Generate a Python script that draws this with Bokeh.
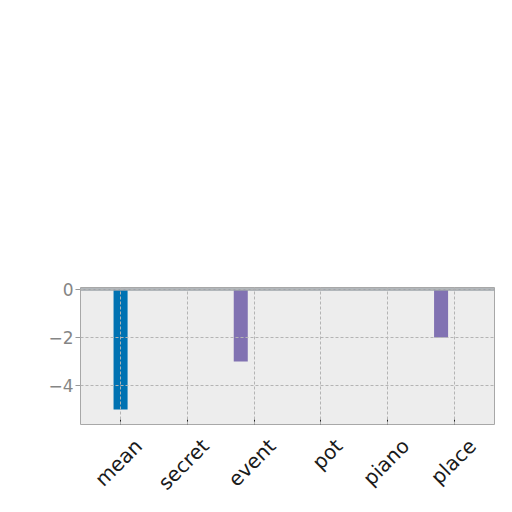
import math
from bokeh.plotting import figure
from bokeh.models import (Range1d, ColumnDataSource, Span, LinearAxis, FixedTicker)
from bokeh.transform import dodge
from bokeh.embed import file_html
from bokeh.resources import INLINE

categories = ["mean", "secret", "event", "pot", "piano", "place"]
blue_values = [-5, 0, 0, 0, 0, 0]
purple_values = [0, 0, -3, 0, 0, -2]
y_ticks = [0, -2, -4]

n = len(categories)
positions = list(range(n))
src = ColumnDataSource(dict(pos=positions, cat=categories, blue=blue_values, purple=purple_values))

PAD = 0.6
p = figure(width=500, height=506, output_backend="svg", toolbar_location=None,
           x_range=Range1d(-PAD, n - 1 + PAD),
           y_range=Range1d(-5.62, 0.08),
           min_border_left=80, min_border_right=6, min_border_top=287, min_border_bottom=80)

p.background_fill_color = "#ededed"
p.border_fill_color = "white"
p.outline_line_color = "#a8a8a8"
p.outline_line_width = 1

p.vbar(x="pos", top="blue", bottom=0, width=0.21,
       source=src, fill_color="#0072b2", line_color=None)
p.vbar(x=dodge("pos", -0.2), top="purple", bottom=0, width=0.21,
       source=src, fill_color="#8172b2", line_color=None)

p.add_layout(Span(location=0, dimension="width", line_color="#9ea4aa", line_width=2.5))

for g in (p.xgrid, p.ygrid):
    g.grid_line_color = "#b4b4b4"
    g.grid_line_dash = "3 2"
    g.grid_line_width = 1
    g.level = "overlay"

p.yaxis.ticker = y_ticks
p.yaxis.major_label_overrides = {0: "0", -2: "\u22122", -4: "\u22124"}
p.yaxis.axis_line_color = None
p.yaxis.major_tick_line_color = "#999999"
p.yaxis.major_tick_out = 5
p.yaxis.major_tick_in = 0
p.yaxis.minor_tick_line_color = None
p.yaxis.major_label_text_font = "DejaVu Sans"
p.yaxis.major_label_text_font_size = "17px"
p.yaxis.major_label_text_color = "#858585"
p.yaxis.major_label_standoff = 2

# main x axis: ticks only at category positions (labels not drawn)
p.xaxis.ticker = FixedTicker(ticks=positions)
p.xaxis.axis_line_color = None
p.xaxis.major_tick_line_color = "#222222"
p.xaxis.major_tick_in = 5
p.xaxis.major_tick_out = 0
p.xaxis.minor_tick_line_color = None
p.xaxis.major_label_text_color = None
p.xaxis.major_label_text_font_size = "1px"
p.xaxis.major_label_standoff = 0

# label axis: same positions, shifted so rotated labels sit centred under ticks
shift_px = 18
frame_w = 500 - 80 - 6
s = shift_px * (n - 1 + 2 * PAD) / frame_w
p.extra_x_ranges = {"labels": Range1d(-PAD - s, n - 1 + PAD - s)}
lab_axis = LinearAxis(x_range_name="labels",
                      ticker=FixedTicker(ticks=positions),
                      major_label_overrides={i: c for i, c in zip(positions, categories)})
lab_axis.axis_line_color = None
lab_axis.major_tick_line_color = None
lab_axis.minor_tick_line_color = None
lab_axis.major_label_orientation = math.pi / 4
lab_axis.major_label_text_font = "DejaVu Sans"
lab_axis.major_label_text_font_size = "20px"
lab_axis.major_label_text_color = "#1a1a1a"
lab_axis.major_label_standoff = 12
p.add_layout(lab_axis, "below")

open("out.html", "w").write(file_html(p, INLINE))
